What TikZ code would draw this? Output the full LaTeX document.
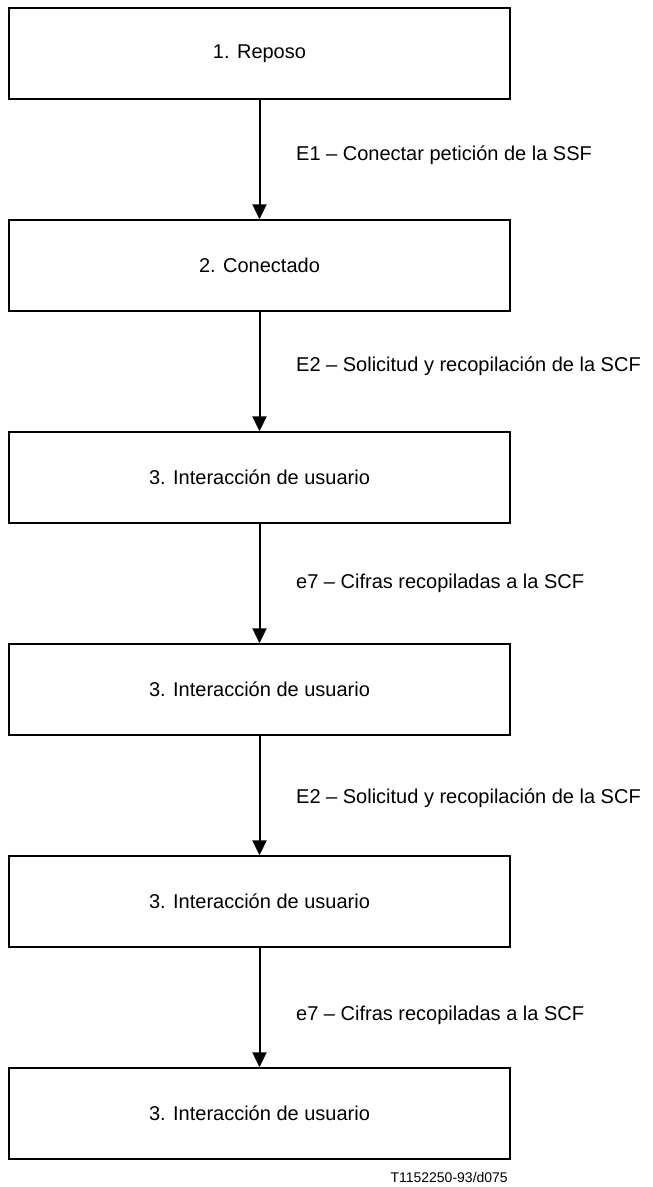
\documentclass[tikz,border=0pt]{standalone}
\usepackage{fontspec}
\setmainfont{Liberation Sans}
\usetikzlibrary{arrows.meta}
\begin{document}
\begin{tikzpicture}[x=1pt,y=-1pt,
  statebox/.style={draw=black, line width=1.4pt, minimum width=501pt, minimum height=91pt, inner sep=0pt, font=\fontsize{20}{24}\selectfont},
  flow/.style={line width=2pt, -{Triangle[width=14pt,length=15pt]}},
  evlabel/.style={anchor=west, inner sep=0pt, font=\fontsize{20}{24}\selectfont}]
\useasboundingbox (0,0) rectangle (653,1187);
\node[statebox] (s1) at (259.5,53.5) {1. Reposo};
\node[statebox] (s2) at (259.5,265.5) {2. Conectado};
\node[statebox] (s3) at (259.5,477.5) {3. Interacción de usuario};
\node[statebox] (s4) at (259.5,689.5) {3. Interacción de usuario};
\node[statebox] (s5) at (259.5,901.5) {3. Interacción de usuario};
\node[statebox] (s6) at (259.5,1113.5) {3. Interacción de usuario};
\draw[flow] (s1) -- (s2);
\draw[flow] (s2) -- (s3);
\draw[flow] (s3) -- (s4);
\draw[flow] (s4) -- (s5);
\draw[flow] (s5) -- (s6);
\node[evlabel] (l1) at (296,155) {E1 – Conectar petición de la SSF};
\node[evlabel] (l2) at (296,366) {E2 – Solicitud y recopilación de la SCF};
\node[evlabel] (l3) at (296,583) {e7 – Cifras recopiladas a la SCF};
\node[evlabel] (l4) at (296,798) {E2 – Solicitud y recopilación de la SCF};
\node[evlabel] (l5) at (296,1015) {e7 – Cifras recopiladas a la SCF};
\node[anchor=east, inner sep=0pt, font=\fontsize{14}{16}\selectfont] (ft) at (508,1177) {T1152250-93/d075};
\end{tikzpicture}
\end{document}
